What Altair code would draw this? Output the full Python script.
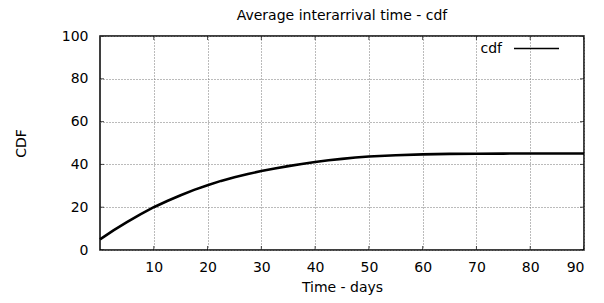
import altair as alt
import pandas as pd

# curve
days = [0, 2.5, 5, 7.5, 10, 12.5, 15, 17.5, 20, 22.5, 25, 27.5, 30, 32.5, 35,
        37.5, 40, 42.5, 45, 47.5, 50, 55, 60, 65, 70, 75, 80, 85, 90]
cdf = [5.0, 9.2, 13.0, 16.7, 20.0, 22.9, 25.6, 28.1, 30.3, 32.3, 34.0, 35.5,
       36.9, 38.1, 39.2, 40.2, 41.1, 41.9, 42.6, 43.2, 43.7, 44.3, 44.7, 44.9,
       45.0, 45.05, 45.1, 45.1, 45.1]
series_name = "cdf"

x_ticks = [10, 20, 30, 40, 50, 60, 70, 80, 90]
y_ticks = [0, 20, 40, 60, 80, 100]
x_domain = [0, 90]
y_domain = [0, 100]

FONT = "DejaVu Sans"
FS = 14

df = pd.DataFrame({"days": days, "cdf": cdf, "series": series_name})
xt = pd.DataFrame({"t": x_ticks})
yt = pd.DataFrame({"t": y_ticks})

xscale = alt.Scale(domain=x_domain, nice=False, zero=False)
yscale = alt.Scale(domain=y_domain, nice=False)

line = alt.Chart(df).mark_line(strokeWidth=2.6, color="black").encode(
    x=alt.X("days:Q", scale=xscale,
            axis=alt.Axis(values=x_ticks, title="Time - days", grid=True,
                          labelPadding=10, titlePadding=6)),
    y=alt.Y("cdf:Q", scale=yscale,
            axis=alt.Axis(values=y_ticks, title="CDF", grid=True,
                          labelPadding=12, titlePadding=33)),
    color=alt.Color("series:N",
                    scale=alt.Scale(range=["black"]),
                    legend=alt.Legend(title=None, orient="none",
                                      legendX=413, legendY=-11,
                                      symbolType="stroke",
                                      symbolSize=2025,
                                      symbolStrokeWidth=1.6,
                                      symbolStrokeColor="black",
                                      labelAlign="right",
                                      labelOffset={"expr": "-58"},
                                      labelFontSize=FS,
                                      labelFont=FONT,
                                      labelColor="black",
                                      padding=0)),
)

tick_top = alt.Chart(xt).mark_tick(orient="vertical", size=8, thickness=1,
                                   color="black", clip=True).encode(
    x=alt.X("t:Q", scale=xscale), y=alt.datum(100))
tick_bot = alt.Chart(xt).mark_tick(orient="vertical", size=8, thickness=1,
                                   color="black", clip=True).encode(
    x=alt.X("t:Q", scale=xscale), y=alt.datum(0))
tick_left = alt.Chart(yt).mark_tick(orient="horizontal", size=8, thickness=1,
                                    color="black", clip=True).encode(
    y=alt.Y("t:Q", scale=yscale), x=alt.datum(0))
tick_right = alt.Chart(yt).mark_tick(orient="horizontal", size=8, thickness=1,
                                     color="black", clip=True).encode(
    y=alt.Y("t:Q", scale=yscale), x=alt.datum(90))

chart = alt.layer(tick_top, tick_bot, tick_left, tick_right, line).properties(
    width=484, height=214,
    title=alt.Title("Average interarrival time - cdf", fontSize=FS,
                    font=FONT, fontWeight="normal", color="black", offset=8,
                    dy=6),
    autosize=alt.AutoSizeParams(type="none"),
    padding={"left": 92, "top": 28, "right": 12, "bottom": 45},
).configure_view(stroke="black", strokeWidth=1.5).configure_axis(
    ticks=False, tickSize=0, domain=False,
    labelFont=FONT, labelFontSize=FS, labelColor="black",
    titleFont=FONT, titleFontSize=FS, titleColor="black", titleFontWeight="normal",
    gridColor="#777", gridDash=[1, 2], gridWidth=1, gridOpacity=1,
)

chart.save("out.html", embed_options={"renderer": "svg", "actions": False})
